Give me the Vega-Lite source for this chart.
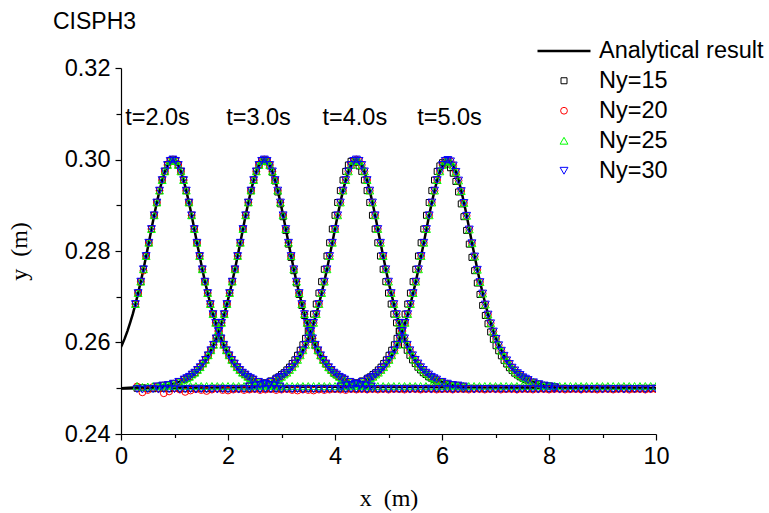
{
"$schema":"https://vega.github.io/schema/vega-lite/v6.json",
"width":535,"height":366,
"autosize":{"type":"none"},
"padding":{"left":121,"top":68,"right":113,"bottom":79},
"title":{"text":"CISPH3","anchor":"start","frame":"group","orient":"top","dx":-68,"dy":11,"offset":0,"fontSize":23,"fontWeight":"normal","font":"Liberation Sans","color":"black"},
"datasets":{
"main":[
{"w":2,"x":0,"a":0.259},
{"w":2,"x":0.02,"a":0.2595},
{"w":2,"x":0.07,"a":0.2609},
{"w":2,"x":0.12,"a":0.2625},
{"w":2,"x":0.17,"a":0.2643},
{"w":2,"x":0.22,"a":0.2662},
{"w":2,"x":0.27,"a":0.2684,"b":0.2684,"c":0.2684,"d":0.2684,"e":0.2684},
{"w":2,"x":0.32,"a":0.2708,"b":0.2708,"c":0.2708,"d":0.2708,"e":0.2708},
{"w":2,"x":0.37,"a":0.2733,"b":0.2733,"c":0.2733,"d":0.2733,"e":0.2733},
{"w":2,"x":0.42,"a":0.276,"b":0.276,"c":0.2757,"d":0.276,"e":0.276},
{"w":2,"x":0.47,"a":0.2789,"b":0.2789,"c":0.2789,"d":0.2789,"e":0.2789},
{"w":2,"x":0.52,"a":0.2818,"b":0.2818,"c":0.2818,"d":0.2818,"e":0.2818},
{"w":2,"x":0.57,"a":0.2848,"b":0.2848,"c":0.2848,"d":0.2848,"e":0.2848},
{"w":2,"x":0.62,"a":0.2878,"b":0.2878,"c":0.2878,"d":0.2878,"e":0.2878},
{"w":2,"x":0.67,"a":0.2906,"b":0.2906,"c":0.2906,"d":0.2906,"e":0.2906},
{"w":2,"x":0.72,"a":0.2932,"b":0.2932,"c":0.2932,"d":0.2932,"e":0.2932},
{"w":2,"x":0.77,"a":0.2955,"b":0.2955,"c":0.2955,"d":0.2955,"e":0.2955},
{"w":2,"x":0.82,"a":0.2974,"b":0.2974,"c":0.2974,"d":0.2974,"e":0.2974},
{"w":2,"x":0.87,"a":0.2988,"b":0.2988,"c":0.2988,"d":0.2988,"e":0.2988},
{"w":2,"x":0.92,"a":0.2997,"b":0.2997,"c":0.2997,"d":0.2997,"e":0.2997},
{"w":2,"x":0.97,"a":0.3,"b":0.3,"c":0.3,"d":0.3,"e":0.3},
{"w":2,"x":1.02,"a":0.2997,"b":0.2997,"c":0.2997,"d":0.2997,"e":0.2997},
{"w":2,"x":1.07,"a":0.2988,"b":0.2988,"c":0.2988,"d":0.2988,"e":0.2988},
{"w":2,"x":1.12,"a":0.2974,"b":0.2974,"c":0.2974,"d":0.2974,"e":0.2974},
{"w":2,"x":1.17,"a":0.2955,"b":0.2955,"c":0.2955,"d":0.2955,"e":0.2955},
{"w":2,"x":1.22,"a":0.2932,"b":0.2932,"c":0.2932,"d":0.2932,"e":0.2932},
{"w":2,"x":1.27,"a":0.2906,"b":0.2906,"c":0.2906,"d":0.2906,"e":0.2906},
{"w":2,"x":1.32,"a":0.2878,"b":0.2878,"c":0.2878,"d":0.2878,"e":0.2878},
{"w":2,"x":1.37,"a":0.2848,"b":0.2848,"c":0.2848,"d":0.2848,"e":0.2848},
{"w":2,"x":1.42,"a":0.2818,"b":0.2818,"c":0.2818,"d":0.2818,"e":0.2818},
{"w":2,"x":1.47,"a":0.2789,"b":0.2789,"c":0.2789,"d":0.2789,"e":0.2789},
{"w":2,"x":1.52,"a":0.276,"b":0.276,"c":0.276,"d":0.276,"e":0.276},
{"w":2,"x":1.57,"a":0.2733,"b":0.2733,"c":0.2733,"d":0.2733,"e":0.2733},
{"w":2,"x":1.62,"a":0.2708,"b":0.2708,"c":0.2708,"d":0.2708,"e":0.2708},
{"w":2,"x":1.67,"a":0.2684,"b":0.2684,"c":0.2684,"d":0.2684,"e":0.2684},
{"w":2,"x":1.72,"a":0.2662,"b":0.2662,"c":0.2662,"d":0.2662,"e":0.2662},
{"w":2,"x":1.77,"a":0.2643,"b":0.2643,"c":0.2643,"d":0.2643,"e":0.2643},
{"w":2,"x":1.82,"a":0.2625,"b":0.2625,"c":0.2625,"d":0.2625,"e":0.2625},
{"w":2,"x":1.87,"a":0.2609,"b":0.2609,"c":0.2609,"d":0.2609,"e":0.2609},
{"w":2,"x":1.92,"a":0.2595,"b":0.2595,"c":0.2595,"d":0.2595,"e":0.2595},
{"w":2,"x":1.97,"a":0.2583,"b":0.2583,"c":0.2583,"d":0.2583,"e":0.2583},
{"w":2,"x":2.02,"a":0.2572,"b":0.2572,"c":0.2572,"d":0.2572,"e":0.2572},
{"w":2,"x":2.07,"a":0.2562,"b":0.2562,"c":0.2562,"d":0.2562,"e":0.2562},
{"w":2,"x":2.12,"a":0.2554,"b":0.2554,"c":0.2554,"d":0.2554,"e":0.2554},
{"w":2,"x":2.17,"a":0.2546,"b":0.2546,"c":0.2546,"d":0.2546,"e":0.2546},
{"w":2,"x":2.22,"a":0.254,"b":0.254,"c":0.254,"d":0.254,"e":0.254},
{"w":2,"x":2.27,"a":0.2534,"b":0.2534,"c":0.2534,"d":0.2534,"e":0.2534},
{"w":2,"x":2.32,"a":0.253,"b":0.253,"c":0.253,"d":0.253,"e":0.253},
{"w":2,"x":2.37,"a":0.2525,"b":0.2525,"c":0.2525,"d":0.2525,"e":0.2525},
{"w":2,"x":2.42,"a":0.2522,"b":0.2522,"c":0.2522,"d":0.2522,"e":0.2522},
{"w":2,"x":2.47,"a":0.2519,"b":0.2519,"c":0.2519,"d":0.2519,"e":0.2519},
{"w":2,"x":2.57,"a":0.2514,"b":0.2514,"c":0.2514,"d":0.2514,"e":0.2514},
{"w":2,"x":2.67,"a":0.251,"b":0.251,"c":0.251,"d":0.251,"e":0.251},
{"w":2,"x":2.77,"a":0.2507,"b":0.2507,"c":0.2507,"d":0.2507,"e":0.2507},
{"w":2,"x":2.87,"a":0.2506,"b":0.2506,"c":0.2506,"d":0.2506,"e":0.2506},
{"w":2,"x":2.97,"a":0.2504,"b":0.2504,"c":0.2504,"d":0.2504,"e":0.2504},
{"w":2,"x":10,"a":0.25},
{"w":3,"x":0,"a":0.25},
{"w":3,"x":0.68,"a":0.2504,"b":0.2504,"c":0.2504,"d":0.2504,"e":0.2504},
{"w":3,"x":0.78,"a":0.2506,"b":0.2506,"c":0.2506,"d":0.2506,"e":0.2506},
{"w":3,"x":0.88,"a":0.2507,"b":0.2507,"c":0.2507,"d":0.2507,"e":0.2507},
{"w":3,"x":0.98,"a":0.251,"b":0.251,"c":0.251,"d":0.251,"e":0.251},
{"w":3,"x":1.08,"a":0.2514,"b":0.2514,"c":0.2514,"d":0.2514,"e":0.2514},
{"w":3,"x":1.18,"a":0.2519,"b":0.2519,"c":0.2519,"d":0.2519,"e":0.2519},
{"w":3,"x":1.23,"a":0.2522,"b":0.2522,"c":0.2522,"d":0.2522,"e":0.2522},
{"w":3,"x":1.28,"a":0.2525,"b":0.2525,"c":0.2525,"d":0.2525,"e":0.2525},
{"w":3,"x":1.33,"a":0.253,"b":0.253,"c":0.253,"d":0.253,"e":0.253},
{"w":3,"x":1.38,"a":0.2534,"b":0.2534,"c":0.2534,"d":0.2534,"e":0.2534},
{"w":3,"x":1.43,"a":0.254,"b":0.254,"c":0.254,"d":0.254,"e":0.254},
{"w":3,"x":1.48,"a":0.2546,"b":0.2546,"c":0.2546,"d":0.2546,"e":0.2546},
{"w":3,"x":1.53,"a":0.2554,"b":0.2554,"c":0.2554,"d":0.2554,"e":0.2554},
{"w":3,"x":1.58,"a":0.2562,"b":0.2562,"c":0.2562,"d":0.2562,"e":0.2562},
{"w":3,"x":1.63,"a":0.2572,"b":0.2572,"c":0.2572,"d":0.2572,"e":0.2572},
{"w":3,"x":1.68,"a":0.2583,"b":0.2583,"c":0.2583,"d":0.2583,"e":0.2583},
{"w":3,"x":1.73,"a":0.2595,"b":0.2595,"c":0.2595,"d":0.2595,"e":0.2595},
{"w":3,"x":1.78,"a":0.2609,"b":0.2609,"c":0.2609,"d":0.2609,"e":0.2609},
{"w":3,"x":1.83,"a":0.2625,"b":0.2625,"c":0.2625,"d":0.2625,"e":0.2625},
{"w":3,"x":1.88,"a":0.2643,"b":0.2643,"c":0.2643,"d":0.2643,"e":0.2643},
{"w":3,"x":1.93,"a":0.2662,"b":0.2662,"c":0.2662,"d":0.2662,"e":0.2662},
{"w":3,"x":1.98,"a":0.2684,"b":0.2684,"c":0.2684,"d":0.2684,"e":0.2684},
{"w":3,"x":2.03,"a":0.2708,"b":0.2708,"c":0.2708,"d":0.2708,"e":0.2708},
{"w":3,"x":2.08,"a":0.2733,"b":0.2733,"c":0.2733,"d":0.2733,"e":0.2733},
{"w":3,"x":2.13,"a":0.276,"b":0.276,"c":0.276,"d":0.276,"e":0.276},
{"w":3,"x":2.18,"a":0.2789,"b":0.2789,"c":0.2789,"d":0.2789,"e":0.2789},
{"w":3,"x":2.23,"a":0.2818,"b":0.2818,"c":0.2818,"d":0.2818,"e":0.2818},
{"w":3,"x":2.28,"a":0.2848,"b":0.2848,"c":0.2848,"d":0.2848,"e":0.2848},
{"w":3,"x":2.33,"a":0.2878,"b":0.2878,"c":0.2878,"d":0.2878,"e":0.2878},
{"w":3,"x":2.38,"a":0.2906,"b":0.2906,"c":0.2906,"d":0.2906,"e":0.2906},
{"w":3,"x":2.43,"a":0.2932,"b":0.2932,"c":0.2932,"d":0.2932,"e":0.2932},
{"w":3,"x":2.48,"a":0.2955,"b":0.2955,"c":0.2955,"d":0.2955,"e":0.2955},
{"w":3,"x":2.53,"a":0.2974,"b":0.2974,"c":0.2974,"d":0.2974,"e":0.2974},
{"w":3,"x":2.58,"a":0.2988,"b":0.2988,"c":0.2988,"d":0.2988,"e":0.2988},
{"w":3,"x":2.63,"a":0.2997,"b":0.2997,"c":0.2997,"d":0.2997,"e":0.2997},
{"w":3,"x":2.68,"a":0.3,"b":0.2999,"c":0.3,"d":0.3,"e":0.3},
{"w":3,"x":2.73,"a":0.2997,"b":0.2995,"c":0.2997,"d":0.2997,"e":0.2997},
{"w":3,"x":2.78,"a":0.2988,"b":0.2986,"c":0.2988,"d":0.2988,"e":0.2988},
{"w":3,"x":2.83,"a":0.2974,"b":0.2972,"c":0.2974,"d":0.2974,"e":0.2974},
{"w":3,"x":2.88,"a":0.2955,"b":0.2953,"c":0.2955,"d":0.2955,"e":0.2955},
{"w":3,"x":2.93,"a":0.2932,"b":0.2929,"c":0.2932,"d":0.2932,"e":0.2932},
{"w":3,"x":2.98,"a":0.2906,"b":0.2903,"c":0.2906,"d":0.2906,"e":0.2906},
{"w":3,"x":3.03,"a":0.2878,"b":0.2875,"c":0.2878,"d":0.2878,"e":0.2878},
{"w":3,"x":3.08,"a":0.2848,"b":0.2845,"c":0.2848,"d":0.2848,"e":0.2848},
{"w":3,"x":3.13,"a":0.2818,"b":0.2815,"c":0.2818,"d":0.2818,"e":0.2818},
{"w":3,"x":3.18,"a":0.2789,"b":0.2786,"c":0.2789,"d":0.2789,"e":0.2789},
{"w":3,"x":3.23,"a":0.276,"b":0.2757,"c":0.276,"d":0.276,"e":0.276},
{"w":3,"x":3.28,"a":0.2733,"b":0.273,"c":0.2733,"d":0.2733,"e":0.2733},
{"w":3,"x":3.33,"a":0.2708,"b":0.2705,"c":0.2708,"d":0.2708,"e":0.2708},
{"w":3,"x":3.38,"a":0.2684,"b":0.2681,"c":0.2684,"d":0.2684,"e":0.2684},
{"w":3,"x":3.43,"a":0.2662,"b":0.2659,"c":0.2662,"d":0.2662,"e":0.2662},
{"w":3,"x":3.48,"a":0.2643,"b":0.2641,"c":0.2643,"d":0.2643,"e":0.2643},
{"w":3,"x":3.53,"a":0.2625,"b":0.2623,"c":0.2625,"d":0.2625,"e":0.2625},
{"w":3,"x":3.58,"a":0.2609,"b":0.2607,"c":0.2609,"d":0.2609,"e":0.2609},
{"w":3,"x":3.63,"a":0.2595,"b":0.2593,"c":0.2595,"d":0.2595,"e":0.2595},
{"w":3,"x":3.68,"a":0.2583,"b":0.2582,"c":0.2583,"d":0.2583,"e":0.2583},
{"w":3,"x":3.73,"a":0.2572,"b":0.2571,"c":0.2572,"d":0.2572,"e":0.2572},
{"w":3,"x":3.78,"a":0.2562,"b":0.2561,"c":0.2562,"d":0.2562,"e":0.2562},
{"w":3,"x":3.83,"a":0.2554,"b":0.2553,"c":0.2554,"d":0.2554,"e":0.2554},
{"w":3,"x":3.88,"a":0.2546,"b":0.2545,"c":0.2546,"d":0.2546,"e":0.2546},
{"w":3,"x":3.93,"a":0.254,"b":0.2539,"c":0.254,"d":0.254,"e":0.254},
{"w":3,"x":3.98,"a":0.2534,"b":0.2533,"c":0.2534,"d":0.2534,"e":0.2534},
{"w":3,"x":4.03,"a":0.253,"b":0.2529,"c":0.253,"d":0.253,"e":0.253},
{"w":3,"x":4.08,"a":0.2525,"b":0.2525,"c":0.2525,"d":0.2525,"e":0.2525},
{"w":3,"x":4.13,"a":0.2522,"b":0.2522,"c":0.2522,"d":0.2522,"e":0.2522},
{"w":3,"x":4.18,"a":0.2519,"b":0.2519,"c":0.2519,"d":0.2519,"e":0.2519},
{"w":3,"x":4.28,"a":0.2514,"b":0.2514,"c":0.2514,"d":0.2514,"e":0.2514},
{"w":3,"x":4.38,"a":0.251,"b":0.251,"c":0.251,"d":0.251,"e":0.251},
{"w":3,"x":4.48,"a":0.2507,"b":0.2507,"c":0.2507,"d":0.2507,"e":0.2507},
{"w":3,"x":4.58,"a":0.2506,"b":0.2506,"c":0.2506,"d":0.2506,"e":0.2506},
{"w":3,"x":4.68,"a":0.2504,"b":0.2504,"c":0.2504,"d":0.2504,"e":0.2504},
{"w":3,"x":10,"a":0.25},
{"w":4,"x":0,"a":0.25},
{"w":4,"x":2.4,"a":0.2504,"b":0.2505,"c":0.2504,"d":0.2504,"e":0.2504},
{"w":4,"x":2.5,"a":0.2506,"b":0.2507,"c":0.2506,"d":0.2506,"e":0.2506},
{"w":4,"x":2.6,"a":0.2507,"b":0.2508,"c":0.2507,"d":0.2507,"e":0.2507},
{"w":4,"x":2.7,"a":0.251,"b":0.2512,"c":0.251,"d":0.251,"e":0.251},
{"w":4,"x":2.8,"a":0.2514,"b":0.2516,"c":0.2514,"d":0.2514,"e":0.2514},
{"w":4,"x":2.9,"a":0.2519,"b":0.2522,"c":0.2519,"d":0.2519,"e":0.2519},
{"w":4,"x":2.95,"a":0.2522,"b":0.2525,"c":0.2522,"d":0.2522,"e":0.2522},
{"w":4,"x":3.0,"a":0.2525,"b":0.253,"c":0.2525,"d":0.2525,"e":0.2525},
{"w":4,"x":3.05,"a":0.253,"b":0.2534,"c":0.253,"d":0.253,"e":0.253},
{"w":4,"x":3.1,"a":0.2534,"b":0.254,"c":0.2534,"d":0.2534,"e":0.2534},
{"w":4,"x":3.15,"a":0.254,"b":0.2546,"c":0.254,"d":0.254,"e":0.254},
{"w":4,"x":3.2,"a":0.2546,"b":0.2554,"c":0.2546,"d":0.2546,"e":0.2546},
{"w":4,"x":3.25,"a":0.2554,"b":0.2562,"c":0.2554,"d":0.2554,"e":0.2554},
{"w":4,"x":3.3,"a":0.2562,"b":0.2572,"c":0.2562,"d":0.2562,"e":0.2562},
{"w":4,"x":3.35,"a":0.2572,"b":0.2583,"c":0.2572,"d":0.2572,"e":0.2572},
{"w":4,"x":3.4,"a":0.2583,"b":0.2595,"c":0.2583,"d":0.2583,"e":0.2583},
{"w":4,"x":3.45,"a":0.2595,"b":0.2609,"c":0.2595,"d":0.2595,"e":0.2595},
{"w":4,"x":3.5,"a":0.2609,"b":0.2625,"c":0.2609,"d":0.2609,"e":0.2609},
{"w":4,"x":3.55,"a":0.2625,"b":0.2643,"c":0.2625,"d":0.2625,"e":0.2625},
{"w":4,"x":3.6,"a":0.2643,"b":0.2662,"c":0.2643,"d":0.2643,"e":0.2643},
{"w":4,"x":3.65,"a":0.2662,"b":0.2684,"c":0.2662,"d":0.2662,"e":0.2662},
{"w":4,"x":3.7,"a":0.2684,"b":0.2708,"c":0.2684,"d":0.2684,"e":0.2684},
{"w":4,"x":3.75,"a":0.2708,"b":0.2733,"c":0.2708,"d":0.2708,"e":0.2708},
{"w":4,"x":3.8,"a":0.2733,"b":0.276,"c":0.2733,"d":0.2733,"e":0.2733},
{"w":4,"x":3.85,"a":0.276,"b":0.2789,"c":0.276,"d":0.276,"e":0.276},
{"w":4,"x":3.9,"a":0.2789,"b":0.2818,"c":0.2789,"d":0.2789,"e":0.2789},
{"w":4,"x":3.95,"a":0.2818,"b":0.2848,"c":0.2818,"d":0.2818,"e":0.2818},
{"w":4,"x":4.0,"a":0.2848,"b":0.2878,"c":0.2848,"d":0.2848,"e":0.2848},
{"w":4,"x":4.05,"a":0.2878,"b":0.2906,"c":0.2878,"d":0.2878,"e":0.2878},
{"w":4,"x":4.1,"a":0.2906,"b":0.2932,"c":0.2906,"d":0.2906,"e":0.2906},
{"w":4,"x":4.15,"a":0.2932,"b":0.2955,"c":0.2932,"d":0.2932,"e":0.2932},
{"w":4,"x":4.2,"a":0.2955,"b":0.2974,"c":0.2955,"d":0.2955,"e":0.2955},
{"w":4,"x":4.25,"a":0.2974,"b":0.2988,"c":0.2974,"d":0.2974,"e":0.2974},
{"w":4,"x":4.3,"a":0.2988,"b":0.2996,"c":0.2988,"d":0.2988,"e":0.2988},
{"w":4,"x":4.35,"a":0.2997,"b":0.2997,"c":0.2997,"d":0.2997,"e":0.2997},
{"w":4,"x":4.4,"a":0.3,"b":0.2994,"c":0.3,"d":0.2999,"e":0.3},
{"w":4,"x":4.45,"a":0.2997,"b":0.2986,"c":0.2997,"d":0.2996,"e":0.2997},
{"w":4,"x":4.5,"a":0.2988,"b":0.2974,"c":0.2988,"d":0.2988,"e":0.2988},
{"w":4,"x":4.55,"a":0.2974,"b":0.2955,"c":0.2974,"d":0.2974,"e":0.2974},
{"w":4,"x":4.6,"a":0.2955,"b":0.2932,"c":0.2955,"d":0.2955,"e":0.2955},
{"w":4,"x":4.65,"a":0.2932,"b":0.2906,"c":0.2932,"d":0.2932,"e":0.2932},
{"w":4,"x":4.7,"a":0.2906,"b":0.2878,"c":0.2906,"d":0.2906,"e":0.2906},
{"w":4,"x":4.75,"a":0.2878,"b":0.2848,"c":0.2878,"d":0.2878,"e":0.2878},
{"w":4,"x":4.8,"a":0.2848,"b":0.2818,"c":0.2848,"d":0.2848,"e":0.2848},
{"w":4,"x":4.85,"a":0.2818,"b":0.2789,"c":0.2818,"d":0.2818,"e":0.2818},
{"w":4,"x":4.9,"a":0.2789,"b":0.276,"c":0.2789,"d":0.2789,"e":0.2789},
{"w":4,"x":4.95,"a":0.276,"b":0.2733,"c":0.276,"d":0.276,"e":0.276},
{"w":4,"x":5.0,"a":0.2733,"b":0.2708,"c":0.2733,"d":0.2733,"e":0.2733},
{"w":4,"x":5.05,"a":0.2708,"b":0.2684,"c":0.2708,"d":0.2708,"e":0.2708},
{"w":4,"x":5.1,"a":0.2684,"b":0.2662,"c":0.2684,"d":0.2684,"e":0.2684},
{"w":4,"x":5.15,"a":0.2662,"b":0.2643,"c":0.2662,"d":0.2662,"e":0.2662},
{"w":4,"x":5.2,"a":0.2643,"b":0.2625,"c":0.2643,"d":0.2643,"e":0.2643},
{"w":4,"x":5.25,"a":0.2625,"b":0.2609,"c":0.2625,"d":0.2625,"e":0.2625},
{"w":4,"x":5.3,"a":0.2609,"b":0.2595,"c":0.2609,"d":0.2609,"e":0.2609},
{"w":4,"x":5.35,"a":0.2595,"b":0.2583,"c":0.2595,"d":0.2595,"e":0.2595},
{"w":4,"x":5.4,"a":0.2583,"b":0.2572,"c":0.2583,"d":0.2583,"e":0.2583},
{"w":4,"x":5.45,"a":0.2572,"b":0.2562,"c":0.2572,"d":0.2572,"e":0.2572},
{"w":4,"x":5.5,"a":0.2562,"b":0.2554,"c":0.2562,"d":0.2562,"e":0.2562},
{"w":4,"x":5.55,"a":0.2554,"b":0.2546,"c":0.2554,"d":0.2554,"e":0.2554},
{"w":4,"x":5.6,"a":0.2546,"b":0.254,"c":0.2546,"d":0.2546,"e":0.2546},
{"w":4,"x":5.65,"a":0.254,"b":0.2534,"c":0.254,"d":0.254,"e":0.254},
{"w":4,"x":5.7,"a":0.2534,"b":0.253,"c":0.2534,"d":0.2534,"e":0.2534},
{"w":4,"x":5.75,"a":0.253,"b":0.2525,"c":0.253,"d":0.253,"e":0.253},
{"w":4,"x":5.8,"a":0.2525,"b":0.2522,"c":0.2525,"d":0.2525,"e":0.2525},
{"w":4,"x":5.85,"a":0.2522,"b":0.2519,"c":0.2522,"d":0.2522,"e":0.2522},
{"w":4,"x":5.9,"a":0.2519,"b":0.2516,"c":0.2519,"d":0.2519,"e":0.2519},
{"w":4,"x":6.0,"a":0.2514,"b":0.2512,"c":0.2514,"d":0.2514,"e":0.2514},
{"w":4,"x":6.1,"a":0.251,"b":0.2508,"c":0.251,"d":0.251,"e":0.251},
{"w":4,"x":6.2,"a":0.2507,"b":0.2507,"c":0.2507,"d":0.2507,"e":0.2507},
{"w":4,"x":6.3,"a":0.2506,"b":0.2505,"c":0.2506,"d":0.2506,"e":0.2506},
{"w":4,"x":6.4,"a":0.2504,"b":0.2503,"c":0.2504,"d":0.2504,"e":0.2504},
{"w":4,"x":10,"a":0.25},
{"w":5,"x":0,"a":0.25},
{"w":5,"x":4.11,"a":0.2504,"b":0.2505,"c":0.2504,"d":0.2504,"e":0.2504},
{"w":5,"x":4.21,"a":0.2506,"b":0.2507,"c":0.2506,"d":0.2506,"e":0.2506},
{"w":5,"x":4.31,"a":0.2507,"b":0.2508,"c":0.2507,"d":0.2507,"e":0.2507},
{"w":5,"x":4.41,"a":0.251,"b":0.2512,"c":0.251,"d":0.251,"e":0.251},
{"w":5,"x":4.51,"a":0.2514,"b":0.2516,"c":0.2514,"d":0.2514,"e":0.2514},
{"w":5,"x":4.61,"a":0.2519,"b":0.2522,"c":0.2519,"d":0.2519,"e":0.2519},
{"w":5,"x":4.66,"a":0.2522,"b":0.2525,"c":0.2522,"d":0.2522,"e":0.2522},
{"w":5,"x":4.71,"a":0.2525,"b":0.253,"c":0.2525,"d":0.2525,"e":0.2525},
{"w":5,"x":4.76,"a":0.253,"b":0.2534,"c":0.253,"d":0.253,"e":0.253},
{"w":5,"x":4.81,"a":0.2534,"b":0.254,"c":0.2534,"d":0.2534,"e":0.2534},
{"w":5,"x":4.86,"a":0.254,"b":0.2546,"c":0.254,"d":0.254,"e":0.254},
{"w":5,"x":4.91,"a":0.2546,"b":0.2554,"c":0.2546,"d":0.2546,"e":0.2546},
{"w":5,"x":4.96,"a":0.2554,"b":0.2562,"c":0.2554,"d":0.2554,"e":0.2554},
{"w":5,"x":5.01,"a":0.2562,"b":0.2572,"c":0.2562,"d":0.2562,"e":0.2562},
{"w":5,"x":5.06,"a":0.2572,"b":0.2583,"c":0.2572,"d":0.2572,"e":0.2572},
{"w":5,"x":5.11,"a":0.2583,"b":0.2595,"c":0.2583,"d":0.2583,"e":0.2583},
{"w":5,"x":5.16,"a":0.2595,"b":0.2609,"c":0.2595,"d":0.2595,"e":0.2595},
{"w":5,"x":5.21,"a":0.2609,"b":0.2625,"c":0.2609,"d":0.2609,"e":0.2609},
{"w":5,"x":5.26,"a":0.2625,"b":0.2643,"c":0.2625,"d":0.2625,"e":0.2625},
{"w":5,"x":5.31,"a":0.2643,"b":0.2662,"c":0.2643,"d":0.2643,"e":0.2643},
{"w":5,"x":5.36,"a":0.2662,"b":0.2684,"c":0.2662,"d":0.2662,"e":0.2662},
{"w":5,"x":5.41,"a":0.2684,"b":0.2708,"c":0.2684,"d":0.2684,"e":0.2684},
{"w":5,"x":5.46,"a":0.2708,"b":0.2733,"c":0.2708,"d":0.2708,"e":0.2708},
{"w":5,"x":5.51,"a":0.2733,"b":0.276,"c":0.2733,"d":0.2733,"e":0.2733},
{"w":5,"x":5.56,"a":0.276,"b":0.2789,"c":0.276,"d":0.276,"e":0.276},
{"w":5,"x":5.61,"a":0.2789,"b":0.2818,"c":0.2789,"d":0.2789,"e":0.2789},
{"w":5,"x":5.66,"a":0.2818,"b":0.2848,"c":0.2818,"d":0.2818,"e":0.2818},
{"w":5,"x":5.71,"a":0.2848,"b":0.2878,"c":0.2848,"d":0.2848,"e":0.2848},
{"w":5,"x":5.76,"a":0.2878,"b":0.2906,"c":0.2878,"d":0.2878,"e":0.2878},
{"w":5,"x":5.81,"a":0.2906,"b":0.2932,"c":0.2906,"d":0.2906,"e":0.2906},
{"w":5,"x":5.86,"a":0.2932,"b":0.2955,"c":0.2932,"d":0.2932,"e":0.2932},
{"w":5,"x":5.91,"a":0.2955,"b":0.2974,"c":0.2955,"d":0.2955,"e":0.2955},
{"w":5,"x":5.96,"a":0.2974,"b":0.2986,"c":0.2974,"d":0.2974,"e":0.2974},
{"w":5,"x":6.01,"a":0.2988,"b":0.2993,"c":0.2988,"d":0.2988,"e":0.2988},
{"w":5,"x":6.06,"a":0.2997,"b":0.2994,"c":0.2997,"d":0.2996,"e":0.2997},
{"w":5,"x":6.11,"a":0.3,"b":0.299,"c":0.2999,"d":0.2998,"e":0.2999},
{"w":5,"x":6.16,"a":0.2997,"b":0.2982,"c":0.2996,"d":0.2995,"e":0.2996},
{"w":5,"x":6.21,"a":0.2988,"b":0.297,"c":0.2987,"d":0.2987,"e":0.2987},
{"w":5,"x":6.26,"a":0.2974,"b":0.2952,"c":0.2973,"d":0.2973,"e":0.2973},
{"w":5,"x":6.31,"a":0.2955,"b":0.2929,"c":0.2954,"d":0.2954,"e":0.2954},
{"w":5,"x":6.36,"a":0.2932,"b":0.2903,"c":0.2931,"d":0.2931,"e":0.2931},
{"w":5,"x":6.41,"a":0.2906,"b":0.2875,"c":0.2905,"d":0.2905,"e":0.2905},
{"w":5,"x":6.46,"a":0.2878,"b":0.2845,"c":0.2877,"d":0.2877,"e":0.2877},
{"w":5,"x":6.51,"a":0.2848,"b":0.2815,"c":0.2847,"d":0.2847,"e":0.2847},
{"w":5,"x":6.56,"a":0.2818,"b":0.2786,"c":0.2817,"d":0.2817,"e":0.2817},
{"w":5,"x":6.61,"a":0.2789,"b":0.2757,"c":0.2788,"d":0.2788,"e":0.2788},
{"w":5,"x":6.66,"a":0.276,"b":0.273,"c":0.2759,"d":0.2759,"e":0.2759},
{"w":5,"x":6.71,"a":0.2733,"b":0.2705,"c":0.2732,"d":0.2732,"e":0.2732},
{"w":5,"x":6.76,"a":0.2708,"b":0.2681,"c":0.2707,"d":0.2707,"e":0.2707},
{"w":5,"x":6.81,"a":0.2684,"b":0.2659,"c":0.2683,"d":0.2683,"e":0.2683},
{"w":5,"x":6.86,"a":0.2662,"b":0.2641,"c":0.2661,"d":0.2661,"e":0.2661},
{"w":5,"x":6.91,"a":0.2643,"b":0.2623,"c":0.2642,"d":0.2642,"e":0.2642},
{"w":5,"x":6.96,"a":0.2625,"b":0.2607,"c":0.2624,"d":0.2624,"e":0.2624},
{"w":5,"x":7.01,"a":0.2609,"b":0.2593,"c":0.2608,"d":0.2608,"e":0.2608},
{"w":5,"x":7.06,"a":0.2595,"b":0.2582,"c":0.2594,"d":0.2594,"e":0.2594},
{"w":5,"x":7.11,"a":0.2583,"b":0.2571,"c":0.2582,"d":0.2582,"e":0.2582},
{"w":5,"x":7.16,"a":0.2572,"b":0.2561,"c":0.2571,"d":0.2571,"e":0.2571},
{"w":5,"x":7.21,"a":0.2562,"b":0.2553,"c":0.2561,"d":0.2561,"e":0.2561},
{"w":5,"x":7.26,"a":0.2554,"b":0.2545,"c":0.2553,"d":0.2553,"e":0.2553},
{"w":5,"x":7.31,"a":0.2546,"b":0.2539,"c":0.2545,"d":0.2545,"e":0.2545},
{"w":5,"x":7.36,"a":0.254,"b":0.2533,"c":0.2539,"d":0.2539,"e":0.2539},
{"w":5,"x":7.41,"a":0.2534,"b":0.2529,"c":0.2533,"d":0.2533,"e":0.2533},
{"w":5,"x":7.46,"a":0.253,"b":0.2525,"c":0.2529,"d":0.2529,"e":0.2529},
{"w":5,"x":7.51,"a":0.2525,"b":0.2522,"c":0.2524,"d":0.2525,"e":0.2524},
{"w":5,"x":7.56,"a":0.2522,"b":0.2519,"c":0.2521,"d":0.2522,"e":0.2521},
{"w":5,"x":7.61,"a":0.2519,"b":0.2516,"c":0.2518,"d":0.2519,"e":0.2518},
{"w":5,"x":7.71,"a":0.2514,"b":0.2512,"c":0.2513,"d":0.2514,"e":0.2513},
{"w":5,"x":7.81,"a":0.251,"b":0.2508,"c":0.2509,"d":0.251,"e":0.2509},
{"w":5,"x":7.91,"a":0.2507,"b":0.2506,"c":0.2506,"d":0.2507,"e":0.2506},
{"w":5,"x":8.01,"a":0.2506,"b":0.2505,"c":0.2504,"d":0.2506,"e":0.2504},
{"w":5,"x":8.11,"a":0.2504,"b":0.2503,"c":0.2502,"d":0.2505,"e":0.2502},
{"w":5,"x":10,"a":0.25},
{"w":0,"x":0.3,"b":0.25,"c":0.2504,"d":0.2505,"e":0.2498},
{"w":0,"x":0.4,"b":0.2501,"c":0.2491,"d":0.2503,"e":0.2497},
{"w":0,"x":0.5,"b":0.25,"c":0.2496,"d":0.2504,"e":0.2498},
{"w":0,"x":0.6,"b":0.2499,"c":0.2503,"d":0.2505,"e":0.2498},
{"w":0,"x":0.7,"b":0.25,"c":0.2499,"d":0.2505,"e":0.2497},
{"w":0,"x":0.8,"b":0.25,"c":0.2489,"d":0.2504,"e":0.2498},
{"w":0,"x":0.9,"b":0.2499,"c":0.2493,"d":0.2505,"e":0.2498},
{"w":0,"x":1.0,"b":0.25,"c":0.25,"d":0.2505,"e":0.2498},
{"w":0,"x":1.1,"b":0.25,"c":0.2497,"d":0.2505,"e":0.2497},
{"w":0,"x":1.2,"b":0.2499,"c":0.2492,"d":0.2505,"e":0.2498},
{"w":0,"x":1.3,"b":0.25,"c":0.2495,"d":0.2505,"e":0.2498},
{"w":0,"x":1.4,"b":0.25,"c":0.2498,"d":0.2505,"e":0.2497},
{"w":0,"x":1.5,"b":0.25,"c":0.2496,"d":0.2505,"e":0.2498},
{"w":0,"x":1.6,"b":0.2499,"c":0.2494,"d":0.2505,"e":0.2498},
{"w":0,"x":1.7,"b":0.25,"c":0.2497,"d":0.2505,"e":0.2498},
{"w":0,"x":1.8,"b":0.25,"c":0.2499,"d":0.2505,"e":0.2497},
{"w":0,"x":1.9,"b":0.25,"c":0.2496,"d":0.2505,"e":0.2498},
{"w":0,"x":2.0,"b":0.2499,"c":0.2495,"d":0.2505,"e":0.2498},
{"w":0,"x":2.1,"b":0.25,"c":0.2497,"d":0.2505,"e":0.2498},
{"w":0,"x":2.2,"b":0.25,"c":0.2498,"d":0.2505,"e":0.2497},
{"w":0,"x":2.3,"b":0.25,"c":0.2496,"d":0.2505,"e":0.2498},
{"w":0,"x":2.4,"b":0.2499,"c":0.2497,"d":0.2505,"e":0.2498},
{"w":0,"x":2.5,"b":0.25,"c":0.2498,"d":0.2505,"e":0.2498},
{"w":0,"x":2.6,"b":0.25,"c":0.2496,"d":0.2505,"e":0.2497},
{"w":0,"x":2.7,"b":0.25,"c":0.2497,"d":0.2505,"e":0.2498},
{"w":0,"x":2.8,"b":0.2499,"c":0.2498,"d":0.2505,"e":0.2498},
{"w":0,"x":2.9,"b":0.25,"c":0.2496,"d":0.2505,"e":0.2498},
{"w":0,"x":3.0,"b":0.25,"c":0.2497,"d":0.2505,"e":0.2497},
{"w":0,"x":3.1,"b":0.25,"c":0.2498,"d":0.2505,"e":0.2498},
{"w":0,"x":3.2,"b":0.2499,"c":0.2496,"d":0.2505,"e":0.2498},
{"w":0,"x":3.3,"b":0.25,"c":0.2495,"d":0.2505,"e":0.2498},
{"w":0,"x":3.4,"b":0.25,"c":0.2497,"d":0.2505,"e":0.2497},
{"w":0,"x":3.5,"b":0.25,"c":0.2496,"d":0.2505,"e":0.2498},
{"w":0,"x":3.6,"b":0.2499,"c":0.2495,"d":0.2505,"e":0.2498},
{"w":0,"x":3.7,"b":0.25,"c":0.2497,"d":0.2505,"e":0.2498},
{"w":0,"x":3.8,"b":0.25,"c":0.2496,"d":0.2505,"e":0.2497},
{"w":0,"x":3.9,"b":0.25,"c":0.2497,"d":0.2505,"e":0.2498},
{"w":0,"x":4.0,"b":0.2499,"c":0.2498,"d":0.2505,"e":0.2498},
{"w":0,"x":4.1,"b":0.25,"c":0.2497,"d":0.2505,"e":0.2498},
{"w":0,"x":4.2,"b":0.25,"c":0.2496,"d":0.2505,"e":0.2497},
{"w":0,"x":4.3,"b":0.25,"c":0.2498,"d":0.2505,"e":0.2498},
{"w":0,"x":4.4,"b":0.2499,"c":0.2497,"d":0.2505,"e":0.2498},
{"w":0,"x":4.5,"b":0.25,"c":0.2498,"d":0.2505,"e":0.2498},
{"w":0,"x":4.6,"b":0.25,"c":0.2497,"d":0.2505,"e":0.2497},
{"w":0,"x":4.7,"b":0.25,"c":0.2498,"d":0.2505,"e":0.2498},
{"w":0,"x":4.8,"b":0.2499,"c":0.2497,"d":0.2505,"e":0.2498},
{"w":0,"x":4.9,"b":0.25,"c":0.2498,"d":0.2505,"e":0.2498},
{"w":0,"x":5.0,"b":0.25,"c":0.2497,"d":0.2505,"e":0.2497},
{"w":0,"x":5.1,"b":0.25,"c":0.2498,"d":0.2505,"e":0.2498},
{"w":0,"x":5.2,"b":0.2499,"c":0.2498,"d":0.2505,"e":0.2498},
{"w":0,"x":5.3,"b":0.25,"c":0.2497,"d":0.2505,"e":0.2498},
{"w":0,"x":5.4,"b":0.25,"c":0.2498,"d":0.2505,"e":0.2497},
{"w":0,"x":5.5,"b":0.25,"c":0.2498,"d":0.2505,"e":0.2498},
{"w":0,"x":5.6,"b":0.2499,"c":0.2497,"d":0.2505,"e":0.2498},
{"w":0,"x":5.7,"b":0.25,"c":0.2498,"d":0.2505,"e":0.2498},
{"w":0,"x":5.8,"b":0.25,"c":0.2498,"d":0.2505,"e":0.2497},
{"w":0,"x":5.9,"b":0.25,"c":0.2497,"d":0.2505,"e":0.2498},
{"w":0,"x":6.0,"b":0.2499,"c":0.2498,"d":0.2505,"e":0.2498},
{"w":0,"x":6.1,"b":0.25,"c":0.2498,"d":0.2505,"e":0.2498},
{"w":0,"x":6.2,"b":0.25,"c":0.2497,"d":0.2505,"e":0.2497},
{"w":0,"x":6.3,"b":0.25,"c":0.2498,"d":0.2505,"e":0.2498},
{"w":0,"x":6.4,"b":0.2499,"c":0.2498,"d":0.2505,"e":0.2498},
{"w":0,"x":6.5,"b":0.25,"c":0.2497,"d":0.2505,"e":0.2498},
{"w":0,"x":6.6,"b":0.25,"c":0.2498,"d":0.2505,"e":0.2497},
{"w":0,"x":6.7,"b":0.25,"c":0.2498,"d":0.2505,"e":0.2498},
{"w":0,"x":6.8,"b":0.2499,"c":0.2497,"d":0.2505,"e":0.2498},
{"w":0,"x":6.9,"b":0.25,"c":0.2498,"d":0.2505,"e":0.2498},
{"w":0,"x":7.0,"b":0.25,"c":0.2498,"d":0.2505,"e":0.2497},
{"w":0,"x":7.1,"b":0.25,"c":0.2497,"d":0.2505,"e":0.2498},
{"w":0,"x":7.2,"b":0.2499,"c":0.2498,"d":0.2505,"e":0.2498},
{"w":0,"x":7.3,"b":0.25,"c":0.2498,"d":0.2505,"e":0.2498},
{"w":0,"x":7.4,"b":0.25,"c":0.2497,"d":0.2505,"e":0.2497},
{"w":0,"x":7.5,"b":0.25,"c":0.2498,"d":0.2505,"e":0.2498},
{"w":0,"x":7.6,"b":0.2499,"c":0.2498,"d":0.2505,"e":0.2498},
{"w":0,"x":7.7,"b":0.25,"c":0.2497,"d":0.2505,"e":0.2498},
{"w":0,"x":7.8,"b":0.25,"c":0.2498,"d":0.2505,"e":0.2497},
{"w":0,"x":7.9,"b":0.25,"c":0.2498,"d":0.2505,"e":0.2498},
{"w":0,"x":8.0,"b":0.2499,"c":0.2497,"d":0.2505,"e":0.2498},
{"w":0,"x":8.1,"b":0.25,"c":0.2498,"d":0.2505,"e":0.2498},
{"w":0,"x":8.2,"b":0.25,"c":0.2498,"d":0.2505,"e":0.2497},
{"w":0,"x":8.3,"b":0.25,"c":0.2497,"d":0.2505,"e":0.2498},
{"w":0,"x":8.4,"b":0.2499,"c":0.2498,"d":0.2505,"e":0.2498},
{"w":0,"x":8.5,"b":0.25,"c":0.2498,"d":0.2505,"e":0.2498},
{"w":0,"x":8.6,"b":0.25,"c":0.2497,"d":0.2505,"e":0.2497},
{"w":0,"x":8.7,"b":0.25,"c":0.2498,"d":0.2505,"e":0.2498},
{"w":0,"x":8.8,"b":0.2499,"c":0.2498,"d":0.2505,"e":0.2498},
{"w":0,"x":8.9,"b":0.25,"c":0.2497,"d":0.2505,"e":0.2498},
{"w":0,"x":9.0,"b":0.25,"c":0.2498,"d":0.2505,"e":0.2497},
{"w":0,"x":9.1,"b":0.25,"c":0.2498,"d":0.2505,"e":0.2498},
{"w":0,"x":9.2,"b":0.2499,"c":0.2497,"d":0.2505,"e":0.2498},
{"w":0,"x":9.3,"b":0.25,"c":0.2498,"d":0.2505,"e":0.2498},
{"w":0,"x":9.4,"b":0.25,"c":0.2498,"d":0.2505,"e":0.2497},
{"w":0,"x":9.5,"b":0.25,"c":0.2497,"d":0.2505,"e":0.2498},
{"w":0,"x":9.6,"b":0.2499,"c":0.2498,"d":0.2505,"e":0.2498},
{"w":0,"x":9.7,"b":0.25,"c":0.2498,"d":0.2505,"e":0.2498},
{"w":0,"x":9.8,"b":0.25,"c":0.2497,"d":0.2505,"e":0.2497},
{"w":0,"x":9.9,"b":0.25,"c":0.2498,"d":0.2505,"e":0.2498},
{"w":0,"x":10.0,"b":0.25,"c":0.2498,"d":0.2505,"e":0.2499}
],
"labels":[
{"tx":0.682,"ty":0.3075,"lab":"t=2.0s"},
{"tx":2.57,"ty":0.3075,"lab":"t=3.0s"},
{"tx":4.37,"ty":0.3075,"lab":"t=4.0s"},
{"tx":6.14,"ty":0.3075,"lab":"t=5.0s"}
]
},
"layer":[
{
"data":{"name":"main"},
"transform":[{"fold":["a","b","c","d","e"],"as":["k","y"]},{"filter":"isValid(datum.y) && datum.k == 'a'"}],
"mark":{"type":"line","clip":true},
"encoding":{
"x":{"field":"x","type":"quantitative","scale":{"domain":[0,10],"nice":false},"axis":{"values":[0,2,4,6,8,10],"format":"d","title":"x \u00a0(m)","tickSize":6,"labelPadding":4,"labelFlush":false,"titlePadding":19,"titleFontSize":24,"orient":"bottom"}},
"y":{"field":"y","type":"quantitative","scale":{"domain":[0.24,0.32],"nice":false,"zero":false},"axis":{"values":[0.24,0.26,0.28,0.3,0.32],"format":".2f","title":"y \u00a0(m)","tickSize":6,"labelPadding":5,"labelFlush":false,"titlePadding":33,"titleFontSize":24,"orient":"left"}},
"color":{"field":"k","type":"nominal","scale":{"domain":["a","b","c","d","e"],"range":["#000000","#000000","#ff0000","#00ff00","#0000ff"]},"legend":{"orient":"none","legendX":415,"legendY":-45,"title":null,"padding":0,"labelExpr":"datum.label == 'a' ? 'Analytical result' : datum.label == 'b' ? 'Ny=15' : datum.label == 'c' ? 'Ny=20' : datum.label == 'd' ? 'Ny=25' : 'Ny=30'","labelFontSize":23.5,"labelFont":"Liberation Sans","labelColor":"black","labelOffset":7,"labelLimit":400,"rowPadding":5}},
"strokeWidth":{"field":"k","type":"nominal","scale":{"type":"ordinal","domain":["a","b","c","d","e"],"range":[2.5,1,1,1,1]}},
"detail":{"field":"w","type":"nominal"}
}
},
{
"data":{"name":"main"},
"transform":[{"fold":["a","b","c","d","e"],"as":["k","y"]},{"filter":"isValid(datum.y) && datum.k != 'a'"}],
"mark":{"type":"point","filled":false,"strokeWidth":1,"opacity":1,"clip":true},
"encoding":{
"x":{"field":"x","type":"quantitative","scale":{"domain":[0,10],"nice":false},"axis":{"values":[1,3,5,7,9],"labels":false,"domain":false,"tickSize":3.5,"title":null,"orient":"bottom"}},
"y":{"field":"y","type":"quantitative","scale":{"domain":[0.24,0.32],"nice":false,"zero":false},"axis":{"values":[0.25,0.27,0.29,0.31],"labels":false,"domain":false,"tickSize":5,"title":null,"orient":"left"}},
"color":{"field":"k","type":"nominal"},
"shape":{"field":"k","type":"nominal","scale":{"domain":["a","b","c","d","e"],"range":["stroke","square","circle","triangle-up","triangle-down"]}},
"size":{"field":"k","type":"nominal","scale":{"type":"ordinal","domain":["a","b","c","d","e"],"range":[2809,36,46,62,62]}},
"order":{"field":"k","type":"ordinal"}
}
},
{
"data":{"name":"labels"},
"mark":{"type":"text","fontSize":23.5,"font":"Liberation Sans","color":"black","align":"center","baseline":"alphabetic"},
"encoding":{
"x":{"field":"tx","type":"quantitative","scale":{"domain":[0,10],"nice":false},"axis":null},
"y":{"field":"ty","type":"quantitative","scale":{"domain":[0.24,0.32],"nice":false,"zero":false},"axis":null},
"text":{"field":"lab"}
}
}
],
"resolve":{"axis":{"x":"independent","y":"independent"}},
"config":{
"view":{"stroke":null},
"font":"Liberation Sans",
"axis":{"grid":false,"domainColor":"black","tickColor":"black","labelColor":"black","titleColor":"black","labelFont":"Liberation Sans","labelFontSize":23.5,"titleFont":"Liberation Serif","titleFontSize":24,"titleFontWeight":"normal","domainWidth":1.2,"tickWidth":1.2}
}
}
